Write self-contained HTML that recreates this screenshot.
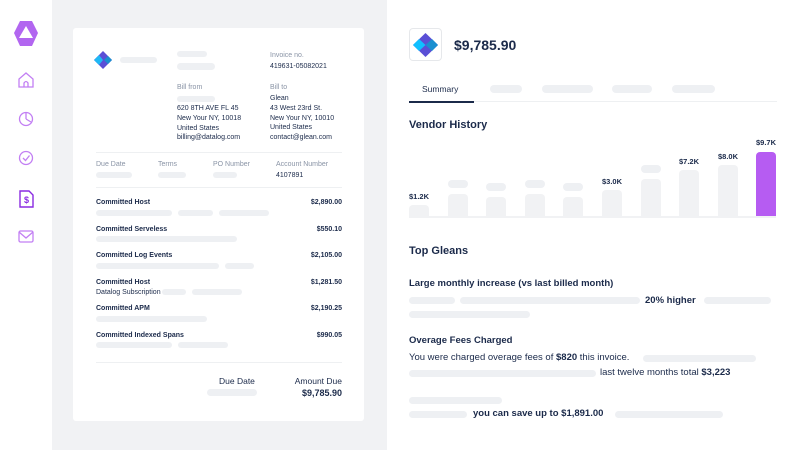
<!DOCTYPE html>
<html><head><meta charset="utf-8"><style>
*{margin:0;padding:0;box-sizing:border-box}
body{width:800px;height:450px;position:relative;overflow:hidden;background:#fff;font-family:"Liberation Sans",sans-serif;color:#1b2a4a}
.a{position:absolute;white-space:nowrap}
.s{position:absolute;background:#eef0f3;border-radius:4px}
.g{color:#8a94a6}
.t7{font-size:7px}
.b{font-weight:bold}
.bar{position:absolute;background:#f1f2f4;border-radius:4px 4px 0 0;width:20px}
.lbl{position:absolute;font-size:7.5px;font-weight:bold;width:40px;text-align:center;margin-left:-10px}
</style></head><body>
<div class="a" style="left:52px;top:0;width:335px;height:450px;background:#f1f2f4"></div>
<div class="a" style="left:73px;top:28px;width:291px;height:393px;background:#fff;border-radius:3px"></div>

<!-- sidebar -->
<svg class="a" style="left:0;top:0" width="52" height="260">
<polygon points="20,21 32,21 38,33 32,46 20,46 14,33" fill="#b266f0"/>
<polygon points="26,26 33,38 19,38" fill="#fff"/>
<g fill="none" stroke="#c27ff3" stroke-width="1.3">
<path d="M19,87 V79 L26,73 L33,79 V87 Z M24,87 V83 Q26,80 28,83 V87"/>
<circle cx="26" cy="119" r="6.5"/><path d="M26,119 V113 M26,119 L31,122"/>
<circle cx="26" cy="158" r="6.5"/><path d="M23,158 L25.5,160.5 L29.5,155.5"/>
<rect x="19" y="231" width="14" height="11" rx="1.5"/><path d="M19,232 L26,238 L33,232"/>
</g>
<path d="M20,191 H29 L33,195 V207 H20 Z" fill="none" stroke="#8a2be2" stroke-width="1.4"/>
<text x="26.5" y="203" font-size="9" font-weight="bold" fill="#8a2be2" text-anchor="middle" font-family="Liberation Sans">$</text>
</svg>

<!-- invoice -->
<svg class="a" style="left:94px;top:51px" width="20" height="18"><polygon points="9,0 18,9 9,18 0,9" fill="#5a4fd6"/><polygon points="5,4 9,9 5,14 0,9" fill="#1fb8f5"/><polygon points="14,5 18,9 14,13 10,9" fill="#1a8fd0"/></svg>
<div class="s" style="left:120px;top:57px;width:37px;height:6px"></div>
<div class="s" style="left:177px;top:51px;width:30px;height:6px"></div>
<div class="s" style="left:177px;top:63px;width:38px;height:7px"></div>
<div class="a t7 g" style="left:270px;top:52px">Invoice no.</div>
<div class="a t7" style="left:270px;top:63px">419631-05082021</div>
<div class="a t7 g" style="left:177px;top:84px">Bill from</div>
<div class="s" style="left:177px;top:96px;width:38px;height:6px"></div>
<div class="a t7" style="left:177px;top:104px;line-height:9.8px">620 8TH AVE FL 45<br>New Your NY, 10018<br>United States<br>billing@datalog.com</div>
<div class="a t7 g" style="left:270px;top:84px">Bill to</div>
<div class="a t7" style="left:270px;top:94px;line-height:9.8px">Glean<br>43 West 23rd St.<br>New Your NY, 10010<br>United States<br>contact@glean.com</div>
<div class="a" style="left:96px;top:152px;width:246px;height:1px;background:#eef0f2"></div>
<div class="a t7 g" style="left:96px;top:161px">Due Date</div>
<div class="a t7 g" style="left:158px;top:161px">Terms</div>
<div class="a t7 g" style="left:213px;top:161px">PO Number</div>
<div class="a t7 g" style="left:276px;top:161px">Account Number</div>
<div class="s" style="left:96px;top:172px;width:36px;height:6px"></div>
<div class="s" style="left:158px;top:172px;width:28px;height:6px"></div>
<div class="s" style="left:213px;top:172px;width:24px;height:6px"></div>
<div class="a t7" style="left:276px;top:172px">4107891</div>
<div class="a" style="left:96px;top:187px;width:246px;height:1px;background:#eef0f2"></div>

<div class="a t7 b" style="left:96px;top:199px">Committed Host</div><div class="a t7 b" style="right:458px;top:199px">$2,890.00</div>
<div class="s" style="left:96px;top:210px;width:76px;height:6px"></div><div class="s" style="left:178px;top:210px;width:35px;height:6px"></div><div class="s" style="left:219px;top:210px;width:50px;height:6px"></div>
<div class="a t7 b" style="left:96px;top:226px">Committed Serveless</div><div class="a t7 b" style="right:458px;top:226px">$550.10</div>
<div class="s" style="left:96px;top:236px;width:141px;height:6px"></div>
<div class="a t7 b" style="left:96px;top:252px">Committed Log Events</div><div class="a t7 b" style="right:458px;top:252px">$2,105.00</div>
<div class="s" style="left:96px;top:263px;width:123px;height:6px"></div><div class="s" style="left:225px;top:263px;width:29px;height:6px"></div>
<div class="a t7 b" style="left:96px;top:279px">Committed Host</div><div class="a t7 b" style="right:458px;top:279px">$1,281.50</div>
<div class="a t7" style="left:96px;top:289px">Datalog Subscription</div>
<div class="s" style="left:162px;top:289px;width:24px;height:6px"></div><div class="s" style="left:192px;top:289px;width:50px;height:6px"></div>
<div class="a t7 b" style="left:96px;top:305px">Committed APM</div><div class="a t7 b" style="right:458px;top:305px">$2,190.25</div>
<div class="s" style="left:96px;top:316px;width:111px;height:6px"></div>
<div class="a t7 b" style="left:96px;top:332px">Committed Indexed Spans</div><div class="a t7 b" style="right:458px;top:332px">$990.05</div>
<div class="s" style="left:96px;top:342px;width:76px;height:6px"></div><div class="s" style="left:178px;top:342px;width:50px;height:6px"></div>
<div class="a" style="left:96px;top:362px;width:246px;height:1px;background:#eef0f2"></div>
<div class="a" style="left:219px;top:376px;font-size:8.5px">Due Date</div>
<div class="a" style="right:458px;top:376px;font-size:8.5px">Amount Due</div>
<div class="s" style="left:207px;top:389px;width:50px;height:7px"></div>
<div class="a b" style="right:458px;top:388px;font-size:9px">$9,785.90</div>

<!-- right panel -->
<div class="a" style="left:409px;top:28px;width:33px;height:33px;border:1px solid #e6e8eb;border-radius:4px"></div>
<svg class="a" style="left:413px;top:33px" width="25" height="24"><polygon points="12.5,0 25,12 12.5,24 0,12" fill="#5a4fd6"/><polygon points="6,6 12.5,12 6,18 0,12" fill="#10c0ff"/><polygon points="19,6 25,12 19,18 12.5,12" fill="#1a8fd0"/></svg>
<div class="a b" style="left:454px;top:37px;font-size:14px">$9,785.90</div>
<div class="a" style="left:422px;top:84px;font-size:8.5px">Summary</div>
<div class="a" style="left:409px;top:101px;width:368px;height:1px;background:#eef0f2"></div>
<div class="a" style="left:409px;top:101px;width:65px;height:2px;background:#1b2a4a"></div>
<div class="s" style="left:490px;top:85px;width:32px;height:8px"></div>
<div class="s" style="left:542px;top:85px;width:51px;height:8px"></div>
<div class="s" style="left:612px;top:85px;width:40px;height:8px"></div>
<div class="s" style="left:672px;top:85px;width:43px;height:8px"></div>
<div class="a b" style="left:409px;top:119px;font-size:11px">Vendor History</div>

<div class="a" style="left:409px;top:216px;width:367px;height:2px;background:#f1f2f4"></div>
<div class="bar" style="left:409px;top:205px;height:11px"></div>
<div class="bar" style="left:448px;top:194px;height:22px"></div>
<div class="bar" style="left:486px;top:197px;height:19px"></div>
<div class="bar" style="left:525px;top:194px;height:22px"></div>
<div class="bar" style="left:563px;top:197px;height:19px"></div>
<div class="bar" style="left:602px;top:190px;height:26px"></div>
<div class="bar" style="left:641px;top:179px;height:37px"></div>
<div class="bar" style="left:679px;top:170px;height:46px"></div>
<div class="bar" style="left:718px;top:165px;height:51px"></div>
<div class="bar" style="left:756px;top:152px;height:64px;background:#b65cf2"></div>
<div class="s" style="left:448px;top:180px;width:20px;height:8px"></div>
<div class="s" style="left:486px;top:183px;width:20px;height:8px"></div>
<div class="s" style="left:525px;top:180px;width:20px;height:8px"></div>
<div class="s" style="left:563px;top:183px;width:20px;height:8px"></div>
<div class="s" style="left:641px;top:165px;width:20px;height:8px"></div>
<div class="lbl" style="left:409px;top:192px">$1.2K</div>
<div class="lbl" style="left:602px;top:177px">$3.0K</div>
<div class="lbl" style="left:679px;top:157px">$7.2K</div>
<div class="lbl" style="left:718px;top:152px">$8.0K</div>
<div class="lbl" style="left:756px;top:138px">$9.7K</div>

<div class="a b" style="left:409px;top:245px;font-size:11px">Top Gleans</div>
<div class="a b" style="left:409px;top:278px;font-size:9.5px">Large monthly increase (vs last billed month)</div>
<div class="s" style="left:409px;top:297px;width:46px;height:7px"></div>
<div class="s" style="left:460px;top:297px;width:180px;height:7px"></div>
<div class="a b" style="left:645px;top:295px;font-size:9.5px">20% higher</div>
<div class="s" style="left:704px;top:297px;width:67px;height:7px"></div>
<div class="s" style="left:409px;top:311px;width:121px;height:7px"></div>
<div class="a b" style="left:409px;top:335px;font-size:9.5px">Overage Fees Charged</div>
<div class="a" style="left:409px;top:352px;font-size:9.5px">You were charged overage fees of <b>$820</b> this invoice.</div>
<div class="s" style="left:643px;top:355px;width:113px;height:7px"></div>
<div class="s" style="left:409px;top:370px;width:187px;height:7px"></div>
<div class="a" style="left:600px;top:367px;font-size:9.5px">last twelve months total <b>$3,223</b></div>
<div class="s" style="left:409px;top:397px;width:93px;height:7px"></div>
<div class="s" style="left:409px;top:411px;width:58px;height:7px"></div>
<div class="a b" style="left:473px;top:408px;font-size:9.5px">you can save up to $1,891.00</div>
<div class="s" style="left:615px;top:411px;width:108px;height:7px"></div>
</body></html>
